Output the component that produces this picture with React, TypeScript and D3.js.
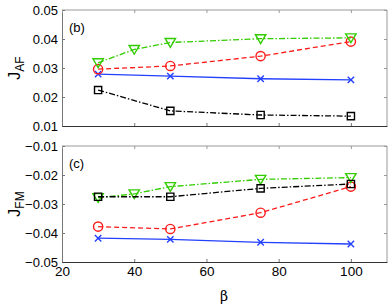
import React, { useEffect, useRef } from 'react';
import * as d3 from 'd3';

const W = 390, H = 308;

// beta values per series
const betaMain = [30, 50, 75, 100];
const betaGreen = [30, 40, 50, 75, 100];

// panel (b): J_AF
const afBlue = [0.0279, 0.0272, 0.0263, 0.0259];
const afRed = [0.0296, 0.0307, 0.0341, 0.0391];
const afGreen = [0.0318, 0.0364, 0.0388, 0.0401, 0.0404];
const afBlack = [0.0224, 0.0152, 0.0138, 0.0134];

// panel (c): J_FM
const fmBlue = [-0.0418, -0.0422, -0.0432, -0.0438];
const fmRed = [-0.0378, -0.0386, -0.0330, -0.0240];
const fmGreen = [-0.0278, -0.0265, -0.0240, -0.0215, -0.0209];
const fmBlack = [-0.0275, -0.0275, -0.0246, -0.0231];

const xTicks = [20, 40, 60, 80, 100];
const afTicks = [0.01, 0.02, 0.03, 0.04, 0.05];
const fmTicks = [-0.05, -0.04, -0.03, -0.02, -0.01];

const colors = { blue: '#2340ff', red: '#ff1a1a', green: '#33cc00', black: '#000' };
const font = 'Liberation Sans, Arial';

type Series = { xs: number[], ys: number[], color: string, dash: string | null, marker: string };

function drawPanel(g, yDomain, yTicks, series: Series[], top, bottom, tag, label, sub, showX) {
    const margin = { left: 62, right: 3 };
    const x = d3.scaleLinear().domain([20, 110]).range([margin.left, W - margin.right]);
    const y = d3.scaleLinear().domain(yDomain).range([bottom, top]);
    const fmt = d3.format('.2f');

    // box: top and right grey
    g.append('line').attr('x1', x(20)).attr('x2', x(110)).attr('y1', top).attr('y2', top)
        .attr('stroke', '#999').attr('stroke-width', 1);
    g.append('line').attr('x1', x(110)).attr('x2', x(110)).attr('y1', top).attr('y2', bottom)
        .attr('stroke', '#999').attr('stroke-width', 1);

    const yAxisL = d3.axisLeft(y).tickValues(yTicks).tickSizeInner(-3).tickSizeOuter(0)
        .tickPadding(4).tickFormat(d => fmt(d).replace('-', '\u2212'));
    const gl = g.append('g').attr('transform', `translate(${x(20)},0)`).call(yAxisL);
    gl.select('.domain').attr('stroke', '#777');
    gl.selectAll('.tick line').attr('stroke', '#777');
    gl.selectAll('text').attr('font-size', 13).attr('font-family', font).attr('fill', '#000');

    const yAxisR = d3.axisRight(y).tickValues(yTicks).tickSizeInner(-3).tickSizeOuter(0).tickFormat(() => '');
    const gr = g.append('g').attr('transform', `translate(${x(110)},0)`).call(yAxisR);
    gr.select('.domain').remove();
    gr.selectAll('.tick line').attr('stroke', '#999');

    const xAxisT = d3.axisTop(x).tickValues(xTicks).tickSizeInner(-3).tickSizeOuter(0).tickFormat(() => '');
    const gt = g.append('g').attr('transform', `translate(0,${top})`).call(xAxisT);
    gt.select('.domain').remove();
    gt.selectAll('.tick line').attr('stroke', '#999');

    const xAxisB = d3.axisBottom(x).tickValues(xTicks).tickSizeInner(-3).tickSizeOuter(0)
        .tickPadding(4).tickFormat(d => showX ? String(d) : '');
    const gb = g.append('g').attr('transform', `translate(0,${bottom})`).call(xAxisB);
    gb.select('.domain').attr('stroke', '#333');
    gb.selectAll('.tick line').attr('stroke', '#777');
    gb.selectAll('text').attr('font-size', 13.5).attr('font-family', font).attr('fill', '#000');

    const line = d3.line<[number, number]>().x(d => x(d[0])).y(d => y(d[1]));
    series.forEach(s => {
        const pts = s.xs.map((v, i) => [v, s.ys[i]] as [number, number]);
        g.append('path').attr('d', line(pts)).attr('fill', 'none')
            .attr('stroke', s.color).attr('stroke-width', 1.3)
            .attr('stroke-dasharray', s.dash);
        const m = g.selectAll(null).data(pts).enter().append('path')
            .attr('transform', d => `translate(${x(d[0])},${y(d[1])})`)
            .attr('fill', 'none').attr('stroke', s.color).attr('stroke-width', 1.4);
        if (s.marker === 'x') m.attr('d', 'M-3.2,-3.2L3.2,3.2M-3.2,3.2L3.2,-3.2');
        if (s.marker === 'o') m.attr('d', d3.arc()({ innerRadius: 0, outerRadius: 4.6, startAngle: 0, endAngle: 2 * Math.PI }));
        if (s.marker === 's') m.attr('d', 'M-3.6,-3.6H3.6V3.6H-3.6Z');
        if (s.marker === 'v') m.attr('d', 'M-5.2,-4H5.2L0,4.8Z');
    });

    g.append('text').attr('x', 69).attr('y', top + 22).text(tag)
        .attr('font-size', 13).attr('font-family', font);

    const lab = g.append('text').attr('transform', `translate(20,${(top + bottom) / 2}) rotate(-90)`)
        .attr('text-anchor', 'middle').attr('font-family', font).attr('font-size', 16);
    lab.append('tspan').text(label);
    lab.append('tspan').attr('font-size', 12).attr('dy', 4).text(sub);
}

export default function App() {
    const ref = useRef<SVGSVGElement>(null);
    useEffect(() => {
        const svg = d3.select(ref.current);
        svg.selectAll('*').remove();
        drawPanel(svg.append('g'), [0.01, 0.05], afTicks, [
            { xs: betaMain, ys: afBlack, color: colors.black, dash: '6,2,1.5,2', marker: 's' },
            { xs: betaMain, ys: afBlue, color: colors.blue, dash: null, marker: 'x' },
            { xs: betaMain, ys: afRed, color: colors.red, dash: '5,3', marker: 'o' },
            { xs: betaGreen, ys: afGreen, color: colors.green, dash: '6,2,1.5,2', marker: 'v' },
        ], 10, 126, '(b)', 'J', 'AF', false);
        drawPanel(svg.append('g'), [-0.05, -0.01], fmTicks, [
            { xs: betaMain, ys: fmBlue, color: colors.blue, dash: null, marker: 'x' },
            { xs: betaMain, ys: fmRed, color: colors.red, dash: '5,3', marker: 'o' },
            { xs: betaGreen, ys: fmGreen, color: colors.green, dash: '6,2,1.5,2', marker: 'v' },
            { xs: betaMain, ys: fmBlack, color: colors.black, dash: '6,2,1.5,2', marker: 's' },
        ], 146, 262, '(c)', 'J', 'FM', true);
        svg.append('text').attr('x', 224).attr('y', 301).attr('text-anchor', 'middle')
            .attr('font-family', 'DejaVu Serif, serif').attr('font-size', 14).text('β');
    }, []);
    return (
        <svg ref={ref} width={W} height={H}
            style={{ position: 'absolute', left: 0, top: 0, background: '#fff' }} />
    );
}
